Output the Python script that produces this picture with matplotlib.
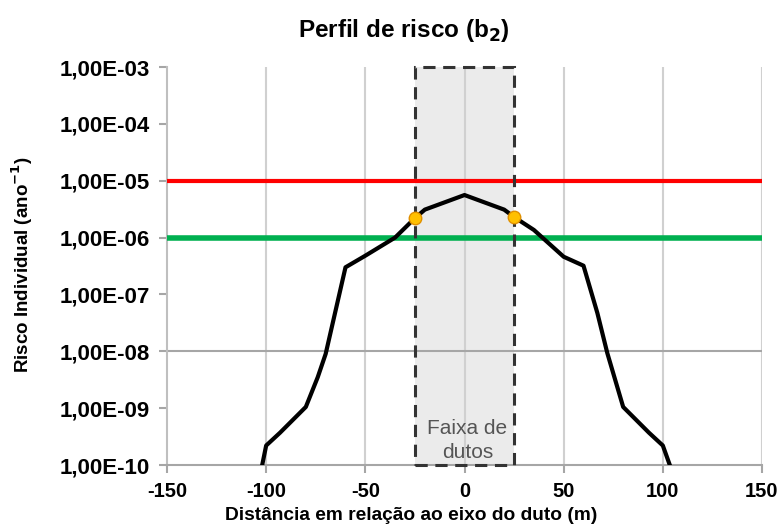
import matplotlib
matplotlib.use("Agg")
import matplotlib.pyplot as plt
from matplotlib.patches import Rectangle
from matplotlib.ticker import FixedLocator, FixedFormatter

# ---- data ----
dist = [-102, -100, -93, -80, -74, -70, -60, -50, -35, -25, -20, 0,
        20, 25, 35, 50, 60, 67, 72, 80, 93, 100, 103.5]
risk = [1.0e-10, 2.2e-10, 3.7e-10, 1.05e-9, 3.5e-9, 9.0e-9, 3.0e-7, 4.8e-7, 1.0e-6, 2.2e-6, 3.1e-6, 5.6e-6,
        3.1e-6, 2.3e-6, 1.36e-6, 4.6e-7, 3.2e-7, 4.7e-8, 9.3e-9, 1.05e-9, 3.7e-10, 2.2e-10, 1.0e-10]
marker_x = [-25, 25]
marker_y = [2.2e-6, 2.3e-6]
limit_upper = 1e-5
limit_lower = 1e-6
band = [-25, 25]
x_ticks = [-150, -100, -50, 0, 50, 100, 150]
x_labels = ["-150", "-100", "-50", "0", "50", "100", "150"]
y_ticks = [1e-3, 1e-4, 1e-5, 1e-6, 1e-7, 1e-8, 1e-9, 1e-10]
y_labels = ["1,00E-03", "1,00E-04", "1,00E-05", "1,00E-06", "1,00E-07",
            "1,00E-08", "1,00E-09", "1,00E-10"]

plt.rcParams['font.family'] = ['Liberation Sans', 'DejaVu Sans']

fig = plt.figure(figsize=(7.81, 5.28), dpi=100)
ax = fig.add_axes([167/781, 63/528, 595/781, 398/528])
ax.set_yscale('log')
ax.set_xlim(-150, 150)
ax.set_ylim(1e-10, 1e-3)

# band
ax.add_patch(Rectangle((band[0], 1e-10), band[1]-band[0], 1e-3-1e-10,
                       facecolor='#ebebeb', edgecolor='none', zorder=0))
ax.add_patch(Rectangle((band[0], 1e-10), band[1]-band[0], 1e-3-1e-10,
                       facecolor='none', edgecolor='#333333', linestyle=(0, (4, 2.5)),
                       linewidth=2.2, zorder=4, clip_on=False))
ax.text(sum(band)/2 + 1.5, 1.15e-10, "Faixa de\ndutos", ha='center', va='bottom',
        fontsize=15, color='#555555', linespacing=1.3, zorder=5)

# grid
for xt in x_ticks[1:]:
    ax.axvline(xt, color='#d0d0d0', linewidth=1.5, zorder=1)
ax.axhline(1e-8, color='#a6a6a6', linewidth=1.5, zorder=1)

# limits
ax.axhline(limit_upper, color='#ff0000', linewidth=3, zorder=3)
ax.axhline(limit_lower, color='#00b050', linewidth=4, zorder=3)

# curve
ax.plot(dist, risk, color='black', linewidth=3, zorder=6, solid_joinstyle='round')
ax.plot(marker_x, marker_y, 'o', color='#ffc000', markeredgecolor='#e09000',
        markersize=9, markeredgewidth=1, zorder=7)

for s in ['top', 'right']:
    ax.spines[s].set_visible(False)
ax.spines['left'].set_color('#bfbfbf')
ax.spines['left'].set_linewidth(1.5)
ax.spines['bottom'].set_color('#a6a6a6')
ax.spines['bottom'].set_linewidth(1.5)

ax.xaxis.set_major_locator(FixedLocator(x_ticks))
ax.xaxis.set_major_formatter(FixedFormatter(x_labels))
ax.yaxis.set_major_locator(FixedLocator(y_ticks))
ax.yaxis.set_major_formatter(FixedFormatter(y_labels))
ax.yaxis.set_minor_locator(FixedLocator([]))
ax.tick_params(axis='x', which='major', direction='out', length=6, width=1.5,
               color='#a6a6a6', labelsize=14.5, pad=6)
ax.tick_params(axis='y', which='major', direction='out', length=6, width=1.5,
               color='#a6a6a6', labelsize=16, pad=6)
for lab in ax.get_xticklabels() + ax.get_yticklabels():
    lab.set_fontweight('bold')

fig.text(404/781, 1 - 30/528, "Perfil de risco (b$_\\mathbf{2}$)", ha='center', va='center',
         fontsize=17.5, fontweight='bold')
fig.text(411/781, 1 - 516/528, "Distância em relação ao eixo do duto (m)", ha='center',
         va='center', fontsize=13.8, fontweight='bold')
fig.text(22/781, 1 - 265/528, "Risco Individual (ano$^{\\mathbf{-1}}$)", ha='center',
         va='center', rotation=90, fontsize=13.5, fontweight='bold')

fig.savefig("out.png", dpi=100)
